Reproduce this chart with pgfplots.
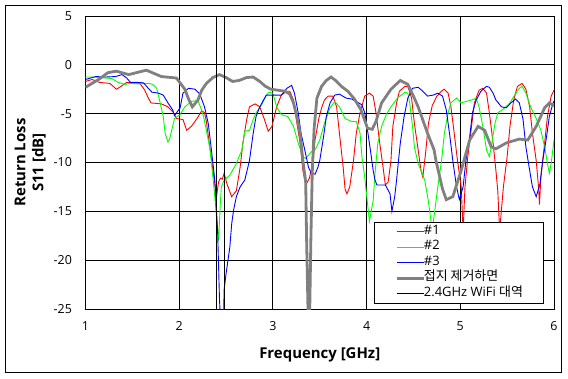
\documentclass[border=0pt]{standalone}
\usepackage{fontspec}
\setmainfont{Open Sans}
\newfontfamily\kr{Noto Sans CJK KR}
\usepackage{pgfplots}
\pgfplotsset{compat=1.18}
\definecolor{sred}{RGB}{255,0,0}
\definecolor{sgreen}{RGB}{0,255,0}
\definecolor{sblue}{RGB}{0,0,255}
\definecolor{sgray}{RGB}{128,128,128}
\begin{document}
\begin{tikzpicture}
\begin{axis}[
  scale only axis, width=468.5bp, height=293bp,
  xmin=1, xmax=6, ymin=-25, ymax=5,
  xtick={1,2,3,4,5,6}, ytick={-25,-20,-15,-10,-5,0,5},
  grid=major, major grid style={black, line width=1bp},
  axis line style={black, line width=1bp},
  major tick length=0pt,
  tick label style={font=\fontsize{12.5}{15}\selectfont},
  /pgf/number format/assume math mode=true,
  yticklabel style={xshift=-10bp},
  xticklabel style={yshift=-9bp},
  xlabel={Frequency [GHz]}, ylabel={Return Loss\\S11 [dB]},
  every axis x label/.style={at={(axis description cs:0.5,0)}, anchor=center, yshift=-46bp, font=\fontsize{15}{18}\selectfont\bfseries},
  every axis y label/.style={at={(axis description cs:-0.118,0.5)}, rotate=90, anchor=center, align=center, font=\fontsize{15}{18}\selectfont\bfseries},
  legend style={at={(axis description cs:0.9787,0.017)}, anchor=south east,
    draw=black, line width=1bp, fill=white,
    font=\fontsize{13}{15}\selectfont,
    cells={anchor=west}, inner xsep=20.5bp, inner ysep=2bp, row sep=0pt,
    nodes={inner sep=0pt, text height=10bp, text depth=5.5bp},
    /tikz/every odd column/.append style={column sep=-1bp}},
  legend image code/.code={\draw[#1] (0bp,0bp) -- (27bp,0bp);},
]
\addplot[sred, line width=0.9bp] coordinates {
(1.00,-1.7)(1.07,-1.5)(1.15,-1.8)(1.26,-1.9)(1.33,-2.5)(1.38,-2.2)(1.44,-1.8)(1.58,-1.9)(1.63,-2.55)(1.67,-3.4)(1.70,-3.9)(1.81,-4.0)(1.88,-4.3)(1.94,-4.9)(1.97,-5.5)(2.04,-5.6)(2.08,-6.7)(2.13,-6.3)(2.19,-5.5)(2.24,-4.7)(2.27,-4.9)(2.29,-5.8)(2.34,-9.4)(2.38,-12.2)(2.40,-13.4)(2.42,-12.0)(2.44,-11.6)(2.46,-11.7)(2.48,-11.1)(2.51,-12.2)(2.56,-13.5)(2.61,-12.9)(2.65,-10.5)(2.68,-8.0)(2.72,-5.6)(2.75,-4.3)(2.81,-4.0)(2.86,-4.3)(2.91,-5.6)(2.95,-6.8)(2.99,-6.3)(3.04,-4.3)(3.09,-3.1)(3.15,-2.7)(3.18,-2.7)(3.22,-3.6)(3.25,-5.6)(3.29,-8.0)(3.32,-10.8)(3.35,-12.3)(3.39,-11.6)(3.43,-9.8)(3.45,-7.7)(3.49,-5.5)(3.52,-4.4)(3.55,-3.6)(3.59,-3.2)(3.64,-3.2)(3.68,-4.3)(3.71,-7.0)(3.75,-10.5)(3.77,-12.7)(3.79,-13.2)(3.82,-12.5)(3.86,-9.8)(3.89,-7.0)(3.93,-4.9)(3.98,-3.2)(4.03,-2.9)(4.07,-3.2)(4.10,-4.9)(4.14,-8.0)(4.18,-10.8)(4.20,-12.3)(4.23,-12.0)(4.26,-9.8)(4.28,-6.3)(4.32,-3.9)(4.35,-2.7)(4.41,-2.2)(4.44,-2.2)(4.48,-3.4)(4.51,-6.0)(4.55,-8.7)(4.58,-10.8)(4.60,-11.5)(4.63,-9.0)(4.66,-6.0)(4.70,-4.2)(4.75,-3.2)(4.81,-2.6)(4.83,-2.5)(4.87,-2.9)(4.90,-4.3)(4.94,-7.4)(4.97,-9.8)(5.01,-12.5)(5.03,-17)(5.05,-12.5)(5.08,-9.4)(5.12,-6.3)(5.15,-3.9)(5.20,-2.6)(5.24,-2.4)(5.28,-2.9)(5.31,-4.9)(5.35,-8.0)(5.38,-10.8)(5.40,-12.9)(5.42,-17)(5.46,-12.5)(5.50,-9.4)(5.53,-6.3)(5.57,-3.6)(5.61,-2.2)(5.66,-1.9)(5.70,-2.5)(5.74,-4.3)(5.77,-7.0)(5.81,-9.8)(5.835,-12.5)(5.845,-14.3)(5.86,-11.5)(5.90,-8.0)(5.93,-5.3)(5.97,-3.2)(6.00,-2.6)};
\addlegendentry{\#1}
\addplot[sgreen, line width=0.9bp] coordinates {
(1.00,-1.25)(1.11,-1.25)(1.21,-1.35)(1.28,-1.4)(1.35,-1.8)(1.42,-2.0)(1.49,-1.9)(1.56,-1.95)(1.67,-1.9)(1.72,-2.0)(1.76,-2.4)(1.79,-3.6)(1.83,-5.3)(1.85,-7.0)(1.88,-7.9)(1.90,-7.5)(1.93,-6.3)(1.95,-5.5)(2.01,-5.1)(2.06,-4.3)(2.13,-3.75)(2.20,-3.65)(2.23,-4.4)(2.26,-5.3)(2.29,-6.7)(2.33,-8.7)(2.36,-11.5)(2.38,-13.5)(2.40,-15.8)(2.42,-18)(2.44,-14)(2.45,-12.5)(2.48,-11.8)(2.54,-11.3)(2.61,-10.1)(2.67,-8.7)(2.70,-6.8)(2.75,-6.7)(2.79,-5.6)(2.82,-4.9)(2.88,-4.1)(2.93,-3.1)(2.96,-2.8)(3.00,-2.9)(3.04,-4.3)(3.09,-5.1)(3.16,-5.3)(3.22,-6.3)(3.27,-8.0)(3.32,-9.4)(3.35,-9.6)(3.41,-8.9)(3.45,-8.7)(3.50,-7.7)(3.55,-6.0)(3.61,-4.4)(3.66,-3.75)(3.71,-4.3)(3.77,-5.5)(3.84,-5.8)(3.89,-5.8)(3.93,-7.0)(3.95,-9.4)(3.98,-11.5)(4.03,-16.0)(4.07,-13.9)(4.09,-11.1)(4.12,-8.0)(4.16,-6.3)(4.21,-5.1)(4.26,-4.3)(4.33,-3.4)(4.41,-2.8)(4.44,-2.9)(4.46,-3.9)(4.49,-6.3)(4.51,-8.4)(4.55,-10.1)(4.58,-10.8)(4.62,-11.8)(4.66,-14)(4.70,-17)(4.76,-12.5)(4.80,-9.8)(4.83,-7.0)(4.87,-4.9)(4.90,-3.9)(4.96,-3.4)(5.01,-3.9)(5.06,-3.75)(5.12,-3.6)(5.17,-3.4)(5.20,-4.3)(5.24,-6.3)(5.28,-8.7)(5.31,-9.4)(5.33,-8.4)(5.37,-6.0)(5.40,-4.9)(5.45,-4.6)(5.53,-3.9)(5.58,-3.1)(5.63,-2.4)(5.66,-2.2)(5.70,-2.9)(5.75,-4.3)(5.81,-5.5)(5.86,-6.7)(5.90,-8.4)(5.93,-10.1)(5.95,-11.1)(5.97,-10.1)(6.00,-7.7)};
\addlegendentry{\#2}
\addplot[sblue, line width=0.9bp] coordinates {
(1.00,-1.5)(1.11,-1.2)(1.21,-1.25)(1.32,-1.2)(1.39,-1.0)(1.44,-1.35)(1.48,-1.8)(1.56,-1.8)(1.62,-1.85)(1.67,-2.4)(1.71,-2.8)(1.78,-2.9)(1.83,-3.1)(1.88,-3.9)(1.93,-4.6)(1.95,-5.2)(2.01,-4.4)(2.04,-2.9)(2.10,-2.4)(2.17,-2.5)(2.22,-3.0)(2.27,-4.3)(2.31,-6.0)(2.34,-8.4)(2.38,-11.8)(2.41,-17)(2.43,-24)(2.45,-28)(2.47,-27)(2.48,-23)(2.50,-21.4)(2.54,-18.7)(2.56,-16.3)(2.58,-14.9)(2.61,-13.5)(2.65,-12.5)(2.70,-11.8)(2.75,-9.8)(2.79,-7.0)(2.82,-5.3)(2.86,-4.3)(2.90,-3.6)(2.93,-3.1)(3.00,-3.1)(3.09,-3.1)(3.15,-2.4)(3.20,-2.1)(3.23,-2.9)(3.27,-4.9)(3.30,-7.0)(3.34,-8.7)(3.38,-10.5)(3.41,-11.1)(3.45,-11.2)(3.48,-10.5)(3.50,-9.8)(3.54,-7.4)(3.57,-5.3)(3.61,-3.9)(3.66,-3.1)(3.71,-3.0)(3.78,-3.4)(3.84,-3.5)(3.89,-3.75)(3.95,-4.1)(3.98,-4.9)(4.01,-6.7)(4.04,-8.7)(4.07,-10.8)(4.09,-11.8)(4.11,-12.3)(4.20,-12.3)(4.25,-13.2)(4.27,-15.0)(4.30,-13.5)(4.32,-11.8)(4.33,-10.8)(4.36,-8.0)(4.40,-5.3)(4.44,-3.4)(4.49,-2.4)(4.55,-2.3)(4.60,-2.7)(4.65,-3.2)(4.71,-3.1)(4.76,-2.9)(4.81,-3.2)(4.85,-4.6)(4.89,-7.4)(4.92,-9.8)(4.96,-12.5)(4.99,-13.8)(5.03,-12.5)(5.06,-9.8)(5.10,-7.4)(5.13,-4.9)(5.17,-3.6)(5.22,-2.7)(5.28,-2.2)(5.31,-2.3)(5.35,-2.9)(5.38,-3.6)(5.44,-4.3)(5.49,-4.4)(5.54,-3.9)(5.59,-3.5)(5.63,-3.9)(5.67,-5.6)(5.70,-8.4)(5.74,-10.8)(5.77,-12.5)(5.81,-13.5)(5.85,-12.2)(5.88,-9.8)(5.92,-7.4)(5.95,-5.3)(5.99,-3.9)(6.00,-3.7)};
\addlegendentry{\#3}
\addplot[sgray, line width=2.8bp] coordinates {
(1.00,-2.3)(1.14,-1.5)(1.24,-0.8)(1.33,-0.65)(1.46,-1.0)(1.65,-0.55)(1.81,-1.2)(1.97,-1.35)(2.06,-2.5)(2.10,-3.5)(2.14,-4.3)(2.20,-3.6)(2.24,-2.6)(2.29,-1.9)(2.36,-1.3)(2.43,-1.0)(2.50,-1.3)(2.57,-1.7)(2.64,-1.6)(2.72,-1.3)(2.79,-1.25)(2.86,-1.7)(2.92,-2.2)(2.98,-2.5)(3.13,-2.7)(3.18,-3.0)(3.22,-3.9)(3.26,-5.5)(3.29,-7.0)(3.32,-9.8)(3.35,-12)(3.36,-18)(3.385,-30)(3.405,-18)(3.42,-11)(3.44,-6.5)(3.47,-3.4)(3.52,-2.2)(3.57,-1.6)(3.62,-1.25)(3.67,-1.6)(3.73,-2.2)(3.80,-2.7)(3.87,-3.5)(3.94,-4.6)(4.01,-6.5)(4.06,-6.6)(4.10,-5.8)(4.16,-3.9)(4.26,-2.5)(4.36,-1.6)(4.44,-2.0)(4.50,-3.2)(4.55,-4.3)(4.65,-7.0)(4.72,-8.7)(4.74,-9.8)(4.81,-12.7)(4.85,-13.8)(4.92,-13.5)(4.96,-12.3)(5.01,-10.8)(5.10,-7.7)(5.19,-6.3)(5.26,-6.7)(5.33,-8.4)(5.38,-8.6)(5.49,-8.0)(5.63,-7.6)(5.72,-7.7)(5.81,-6.3)(5.90,-4.4)(5.95,-3.9)(6.00,-4.2)};
\addlegendentry{{\kr 접지 제거하면}}
\addplot[black, line width=1bp] coordinates {(2.4,-25)(2.4,5)};
\addlegendentry{2.4GHz WiFi {\kr 대역}}
\addplot[black, line width=1bp, forget plot] coordinates {(2.4835,-25)(2.4835,5)};
\end{axis}
\draw[line width=1bp] (-80bp,-63.7bp) rectangle (475.5bp,303.7bp);
\pgfresetboundingbox
\path (-85.5bp,-70bp) rectangle (482.5bp,309bp);
\end{tikzpicture}
\end{document}
